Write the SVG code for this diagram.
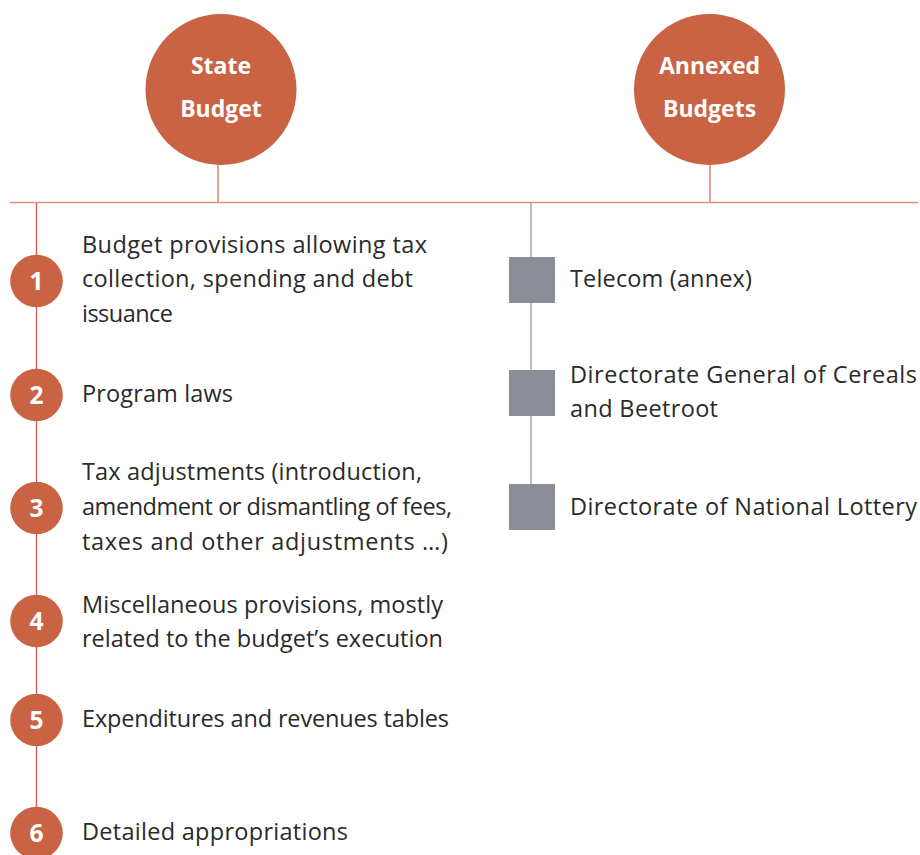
<svg xmlns="http://www.w3.org/2000/svg" width="920" height="855" viewBox="0 0 920 855">
<style>
.big{fill:#c96343}
.bt{font-family:"Open Sans","Noto Sans",sans-serif;font-weight:bold;font-size:23px;fill:#fff;text-anchor:middle}
.num{fill:#c96343}
.nt{font-family:"Open Sans","Noto Sans",sans-serif;font-weight:bold;font-size:24.5px;fill:#fff;text-anchor:middle}
.t{font-family:"Open Sans","Noto Sans",sans-serif;font-size:23.5px;fill:#2a2a2a}
.sq{fill:#8b8e97}
</style>
<rect width="920" height="855" fill="#fff"/>
<g id="connectors" fill="none">
<line x1="10" y1="202.5" x2="918" y2="202.5" stroke="#e0917d" stroke-width="1.5"/>
<line x1="218" y1="164" x2="218" y2="202" stroke="#d86a55" stroke-width="1.3"/>
<line x1="710" y1="164" x2="710" y2="202" stroke="#d86a55" stroke-width="1.3"/>
<line x1="36.5" y1="203" x2="36.5" y2="855" stroke="#cc5a55" stroke-width="1.3"/>
<line x1="531" y1="203" x2="531" y2="484" stroke="#9a9ca4" stroke-width="1.3"/>
</g>
<g id="state-budget">
<circle class="big" cx="221" cy="89.5" r="75.5"/>
<text class="bt" x="221" y="74">State</text>
<text class="bt" x="221" y="117">Budget</text>
</g>
<g id="annexed-budgets">
<circle class="big" cx="709.5" cy="89.5" r="75.5"/>
<text class="bt" x="709.5" y="74">Annexed</text>
<text class="bt" x="709.5" y="117">Budgets</text>
</g>
<g id="item1">
<circle class="num" cx="36.5" cy="281" r="26.3"/>
<text class="nt" x="36.5" y="290">1</text>
<text class="t" x="82" y="253" textLength="345" lengthAdjust="spacing">Budget provisions allowing tax</text>
<text class="t" x="82" y="287" textLength="331" lengthAdjust="spacing">collection, spending and debt</text>
<text class="t" x="82" y="322" textLength="91" lengthAdjust="spacing">issuance</text>
</g>
<g id="item2">
<circle class="num" cx="36.5" cy="395" r="26.3"/>
<text class="nt" x="36.5" y="404">2</text>
<text class="t" x="82" y="402" textLength="151" lengthAdjust="spacing">Program laws</text>
</g>
<g id="item3">
<circle class="num" cx="36.5" cy="508" r="26.3"/>
<text class="nt" x="36.5" y="517">3</text>
<text class="t" x="82" y="480" textLength="340" lengthAdjust="spacing">Tax adjustments (introduction,</text>
<text class="t" x="82" y="515" textLength="370" lengthAdjust="spacing">amendment or dismantling of fees,</text>
<text class="t" x="82" y="550" textLength="366" lengthAdjust="spacing">taxes and other adjustments …)</text>
</g>
<g id="item4">
<circle class="num" cx="36.5" cy="621" r="26.3"/>
<text class="nt" x="36.5" y="630">4</text>
<text class="t" x="82" y="613" textLength="361" lengthAdjust="spacing">Miscellaneous provisions, mostly</text>
<text class="t" x="82" y="647" textLength="361" lengthAdjust="spacing">related to the budget’s execution</text>
</g>
<g id="item5">
<circle class="num" cx="36.5" cy="720" r="26.3"/>
<text class="nt" x="36.5" y="729">5</text>
<text class="t" x="82" y="727" textLength="367" lengthAdjust="spacing">Expenditures and revenues tables</text>
</g>
<g id="item6">
<circle class="num" cx="36.5" cy="833" r="26.3"/>
<text class="nt" x="36.5" y="842">6</text>
<text class="t" x="82" y="840" textLength="266" lengthAdjust="spacing">Detailed appropriations</text>
</g>
<g id="annex1">
<rect class="sq" x="509" y="257" width="46" height="46"/>
<text class="t" x="570" y="287" textLength="182" lengthAdjust="spacing">Telecom (annex)</text>
</g>
<g id="annex2">
<rect class="sq" x="509" y="370" width="46" height="46"/>
<text class="t" x="570" y="383" textLength="347" lengthAdjust="spacing">Directorate General of Cereals</text>
<text class="t" x="570" y="417" textLength="148" lengthAdjust="spacing">and Beetroot</text>
</g>
<g id="annex3">
<rect class="sq" x="509" y="484" width="46" height="46"/>
<text class="t" x="570" y="515" textLength="347" lengthAdjust="spacing">Directorate of National Lottery</text>
</g>
</svg>
